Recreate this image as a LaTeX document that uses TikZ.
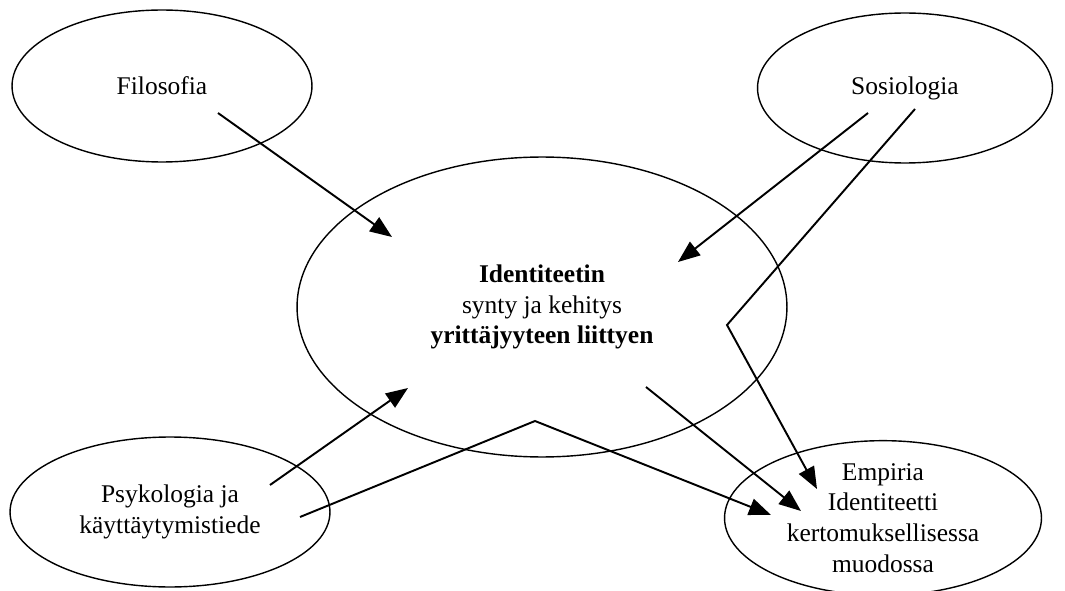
\documentclass[tikz,border=0pt]{standalone}
\usepackage{fontspec}
\setmainfont{Liberation Serif}
\usetikzlibrary{shapes.geometric, arrows.meta}

\begin{document}
\begin{tikzpicture}[x=0.02cm, y=-0.02cm, thick,
    alue/.style={draw, ellipse, line width=0.8pt, inner sep=0pt, align=center,
                 font=\fontsize{14.5}{17.5}\selectfont},
    nuoli/.style={line width=1.1pt, -{Triangle[length=0.44cm, width=0.34cm]}}]
    \useasboundingbox (0,0) rectangle (1065,591);

    % Tieteenalat ja keskusalue
    \node[alue, minimum width=6cm, minimum height=3.04cm] (filo) at (162,86) {Filosofia};
    \node[alue, minimum width=5.9cm, minimum height=3cm] (sosio) at (905,88) {Sosiologia};
    \node[alue, minimum width=9.8cm, minimum height=6cm] (keski) at (542,307)
        {\textbf{Identiteetin}\\ synty ja kehitys\\ \textbf{yrittäjyyteen liittyen}};
    \node[alue, minimum width=6.4cm, minimum height=3cm] (psyk) at (170,512)
        {Psykologia ja\\ käyttäytymistiede};
    \node[alue, minimum width=6.34cm, minimum height=2.86cm] (empi) at (883,518)
        {Empiria\\ Identiteetti\\ kertomuksellisessa\\ muodossa};

    % Nuolten päät
    \coordinate (f1) at (218,113);  \coordinate (k1) at (392,237);
    \coordinate (s1) at (868,113);  \coordinate (k2) at (678,262);
    \coordinate (s2) at (915,109);  \coordinate (t1) at (727,325);  \coordinate (e1) at (817,489);
    \coordinate (p1) at (270,485);  \coordinate (k3) at (408,388);
    \coordinate (p2) at (300,517);  \coordinate (t2) at (535,421);  \coordinate (e2) at (771,515);
    \coordinate (k4) at (646,387);  \coordinate (e3) at (801,511);

    % Nuolet
    \draw[nuoli] (f1) -- (k1);
    \draw[nuoli] (s1) -- (k2);
    \draw[nuoli] (s2) -- (t1) -- (e1);
    \draw[nuoli] (p1) -- (k3);
    \draw[nuoli] (p2) -- (t2) -- (e2);
    \draw[nuoli] (k4) -- (e3);
\end{tikzpicture}
\end{document}
